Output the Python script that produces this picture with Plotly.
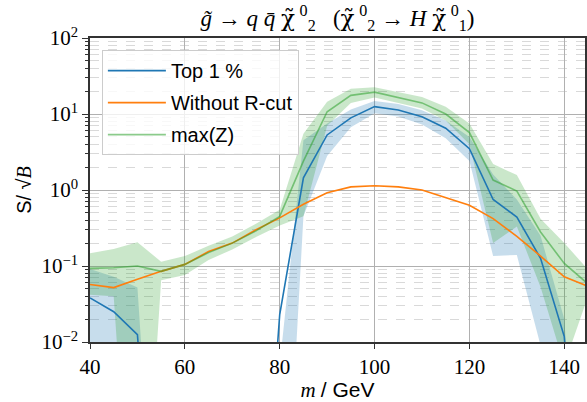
import plotly.graph_objects as go

# ---- data ----
mass = [40, 45, 50, 55, 60, 65, 70, 75, 80, 85, 90, 95, 100, 105, 110, 115, 120, 125, 130, 135, 140, 145]

top1 = [0.038, 0.025, 0.0125, 1e-6, 1e-6, 1e-6, 1e-6, 1e-6, 0.023, 1.45, 5.3, 8.9, 12.5, 11.3,
        9.2, 6.5, 3.5, 0.75, 0.44, 0.126, 0.0118, 1e-6]
top1_lo = [1e-6, 1e-6, 1e-6, 1e-6, 1e-6, 1e-6, 1e-6, 1e-6, 1e-6, 0.45, 2.8, 6.7, 10.2, 9.3,
           7.3, 4.8, 2.4, 0.135, 0.14, 0.009, 1e-6, 1e-6]
top1_hi = [0.091, 0.072, 0.052, 1e-6, 1e-6, 1e-6, 1e-6, 1e-6, 0.005, 4.5, 7.5, 11.5, 14.8, 13.5,
           11.2, 8.2, 5.0, 1.6, 0.75, 0.25, 0.02, 1e-6]

no_rcut = [0.057, 0.052, 0.067, 0.085, 0.105, 0.155, 0.2, 0.3, 0.43, 0.65, 0.92, 1.1, 1.14, 1.1,
           1.0, 0.8, 0.63, 0.42, 0.245, 0.135, 0.072, 0.054]

maxz = [0.093, 0.095, 0.1, 0.085, 0.105, 0.15, 0.2, 0.29, 0.45, 2.4, 10.7, 17.6, 19.4, 16.4,
        14.0, 10.0, 5.7, 1.35, 0.97, 0.28, 0.108, 0.058]
maxz_lo = [0.042, 0.04, 1e-6, 0.065, 0.076, 0.12, 0.165, 0.24, 0.34, 0.45, 7.0, 14.0, 16.5, 14.0,
           11.8, 8.2, 4.0, 0.2, 0.33, 0.053, 0.005, 0.04]
maxz_hi = [0.147, 0.167, 0.205, 0.114, 0.135, 0.185, 0.245, 0.36, 0.55, 5.5, 14.5, 21.5, 22.5, 19.5,
           16.8, 12.5, 7.5, 2.2, 1.57, 0.42, 0.2, 0.09]

ytick_vals = [0.01, 0.1, 1, 10, 100]
ytick_text = ["10<sup>−2</sup>", "10<sup>−1</sup>", "10<sup>0</sup>", "10<sup>1</sup>", "10<sup>2</sup>"]
xtick_vals = [40, 60, 80, 100, 120, 140]

BLUE = "#1f77b4"
ORANGE = "#ff7f0e"
GREEN_LINE = "rgba(44,160,44,0.55)"
BLUE_BAND = "rgba(31,119,180,0.25)"
GREEN_BAND = "rgba(44,160,44,0.25)"

fig = go.Figure()

# bands
fig.add_trace(go.Scatter(x=mass, y=top1_hi, mode="lines", line=dict(width=0), showlegend=False, hoverinfo="skip"))
fig.add_trace(go.Scatter(x=mass, y=top1_lo, mode="lines", line=dict(width=0), fill="tonexty",
                         fillcolor=BLUE_BAND, showlegend=False, hoverinfo="skip"))
fig.add_trace(go.Scatter(x=mass, y=maxz_hi, mode="lines", line=dict(width=0), showlegend=False, hoverinfo="skip"))
fig.add_trace(go.Scatter(x=mass, y=maxz_lo, mode="lines", line=dict(width=0), fill="tonexty",
                         fillcolor=GREEN_BAND, showlegend=False, hoverinfo="skip"))

# lines
fig.add_trace(go.Scatter(x=mass, y=top1, mode="lines", name="Top 1 %", legendgroup="a",
                         line=dict(color=BLUE, width=1.6)))
fig.add_trace(go.Scatter(x=mass, y=no_rcut, mode="lines", name="Without R-cut", legendgroup="b",
                         line=dict(color=ORANGE, width=1.6)))
fig.add_trace(go.Scatter(x=mass, y=maxz, mode="lines", name="max(Z)", legendgroup="c",
                         line=dict(color=GREEN_LINE, width=1.6)))

tickserif = "Liberation Serif"
sans = "Liberation Sans"

CHI = "<span style='font-family:DejaVu Serif'>χ\u0303</span>\u2009"
title_txt = ("<i>g̃</i> → <i>q q̄</i> " + CHI + "<sup>0</sup><sub>2</sub>   ("
             + CHI + "<sup>0</sup><sub>2</sub> → <i>H</i> " + CHI + "<sup>0</sup><sub>1</sub>)")

fig.update_layout(
    width=587, height=402,
    margin=dict(l=90, r=0, t=38, b=60),
    plot_bgcolor="white", paper_bgcolor="white",
    title=dict(
        text=title_txt, xref="paper", x=0.5, xanchor="center", y=0.975, yanchor="top",
        font=dict(family=tickserif, size=23, color="black")),
    legend=dict(x=0.024, y=0.96, xanchor="left", yanchor="top",
                bgcolor="rgba(255,255,255,0.8)", bordercolor="#cccccc", borderwidth=1,
                font=dict(family=sans, size=20, color="black"), tracegroupgap=3,
                itemwidth=58),
    xaxis=dict(range=[40, 144.37], tickvals=xtick_vals, ticks="outside", ticklen=5,
               tickcolor="#333", showline=True, linecolor="#333", linewidth=1.5, mirror=True,
               showgrid=True, gridcolor="#b0b0b0", gridwidth=1, zeroline=False,
               tickfont=dict(family=tickserif, size=21, color="black"),
               title=dict(text="<i>m</i> <span style='font-family:Liberation Sans'>/ GeV</span>",
                          font=dict(family=tickserif, size=21, color="black"), standoff=4)),
    yaxis=dict(type="log", range=[-2, 2], tickvals=ytick_vals, ticktext=ytick_text,
               ticks="outside", ticklen=6, tickcolor="#333",
               showline=True, linecolor="#333", linewidth=1.5, mirror=True,
               showgrid=True, gridcolor="#b0b0b0", gridwidth=1, zeroline=False,
               tickfont=dict(family=tickserif, size=21, color="black"),
               minor=dict(dtick="D1", showgrid=True, gridcolor="#d9d9d9", griddash="dash",
                          ticks="outside", ticklen=3, tickcolor="#333"),
               title=dict(text="S/ √<span style='font-family:Liberation Serif'><i>B</i></span>",
                          font=dict(family=sans, size=20, color="black"), standoff=4)),
)

fig.write_html("out.html")
